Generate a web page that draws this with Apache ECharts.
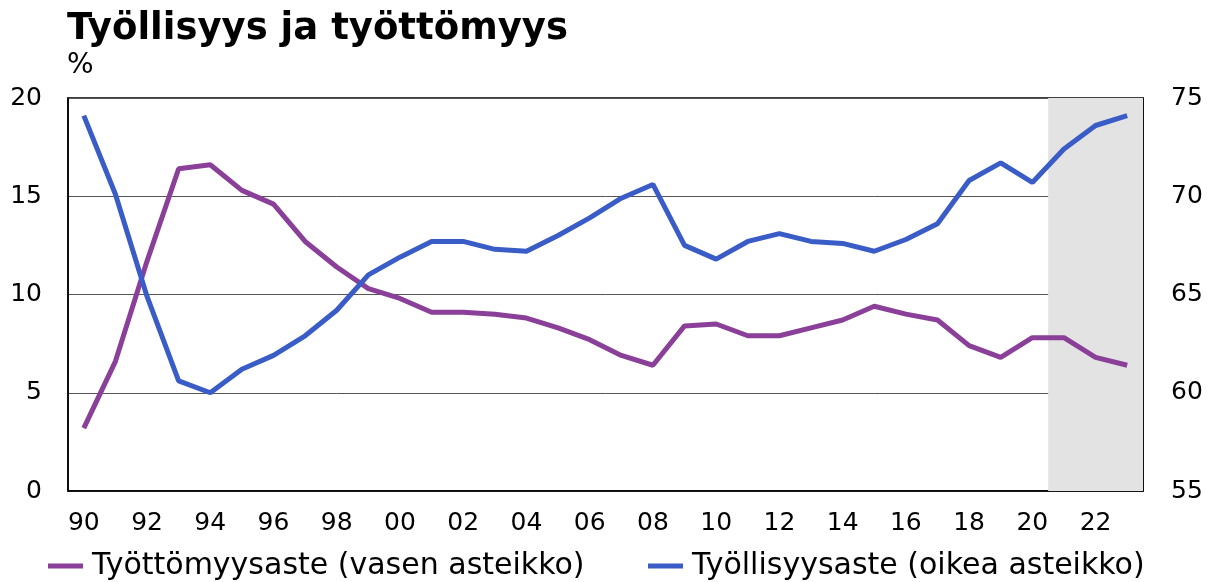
<!DOCTYPE html>
<html>
<head>
<meta charset="utf-8">
<script src="https://cdn.jsdelivr.net/npm/echarts@6/dist/echarts.min.js"></script>
<style>html,body{margin:0;padding:0;background:#fff}#c{width:1208px;height:582px}</style>
</head>
<body>
<div id="c"></div>
<script>
const years = [1990,1991,1992,1993,1994,1995,1996,1997,1998,1999,2000,2001,2002,2003,2004,2005,2006,2007,2008,2009,2010,2011,2012,2013,2014,2015,2016,2017,2018,2019,2020,2021,2022,2023];
const unemployment = [3.2,6.6,11.7,16.4,16.6,15.3,14.6,12.7,11.4,10.3,9.8,9.1,9.1,9.0,8.8,8.3,7.7,6.9,6.4,8.4,8.5,7.9,7.9,8.3,8.7,9.4,9.0,8.7,7.4,6.8,7.8,7.8,6.8,6.4];
const employment = [74.1,70.1,64.9,60.6,60.0,61.2,61.9,62.9,64.2,66.0,66.9,67.7,67.7,67.3,67.2,68.0,68.9,69.9,70.6,67.5,66.8,67.7,68.1,67.7,67.6,67.2,67.8,68.6,70.8,71.7,70.7,72.4,73.6,74.1];
const leftTicks = [0,5,10,15,20];
const rightTicks = [55,60,65,70,75];
const forecastStart = 2021;
const forecastEnd = 2023;
const seriesNames = ['Työttömyysaste (vasen asteikko)', 'Työllisyysaste (oikea asteikko)'];
const titleText = 'Työllisyys ja työttömyys';
const unitText = '%';

const FONT = 'DejaVu Sans';
const chart = echarts.init(document.getElementById('c'), null, {renderer: 'canvas'});
chart.setOption({
  animation: false,
  backgroundColor: '#fff',
  title: [
    {text: titleText, left: 67, top: 11, padding: 0,
     textStyle: {fontFamily: FONT, fontWeight: 'bold', fontSize: 37, color: '#000'}},
    {text: unitText, left: 67, top: 52, padding: 0,
     textStyle: {fontFamily: FONT, fontWeight: 'normal', fontSize: 28, color: '#000'}}
  ],
  legend: [
    {data: [seriesNames[0]], left: 48, top: 551, padding: 0, itemWidth: 35, itemHeight: 5, itemGap: 10,
     icon: 'rect', textStyle: {fontFamily: FONT, fontSize: 30, color: '#000', padding: [0,0,0,4]}},
    {data: [seriesNames[1]], left: 648, top: 551, padding: 0, itemWidth: 35, itemHeight: 5, itemGap: 10,
     icon: 'rect', textStyle: {fontFamily: FONT, fontSize: 30, color: '#000', padding: [0,0,0,4]}}
  ],
  grid: {left: 68, right: 65, top: 98, bottom: 91, show: true, borderColor: '#000', borderWidth: 1.5, backgroundColor: 'transparent'},
  xAxis: [
    {type: 'category', data: years, boundaryGap: true,
     axisLine: {lineStyle: {color: '#000', width: 1.5}},
     axisTick: {inside: true, length: 6, interval: 0, lineStyle: {color: '#000', width: 1.5}},
     axisLabel: {interval: 1, margin: 20, fontFamily: FONT, fontSize: 25, color: '#000',
       formatter: v => String(v).slice(2)},
     splitLine: {show: false}},
    {type: 'value', min: years[0] - 0.5, max: years[years.length - 1] + 0.5, show: false}
  ],
  yAxis: [
    {type: 'value', min: leftTicks[0], max: leftTicks[leftTicks.length - 1], interval: 5,
     axisLine: {show: true, lineStyle: {color: '#000', width: 1.5}},
     axisTick: {show: false},
     axisLabel: {margin: 26, fontFamily: FONT, fontSize: 25, color: '#000'},
     splitLine: {show: true, lineStyle: {color: '#555', width: 1}}},
    {type: 'value', min: rightTicks[0], max: rightTicks[rightTicks.length - 1], interval: 5, position: 'right',
     axisLine: {show: true, lineStyle: {color: '#000', width: 1.5}},
     axisTick: {show: false},
     axisLabel: {margin: 28, fontFamily: FONT, fontSize: 25, color: '#000'},
     splitLine: {show: false}}
  ],
  series: [
    {type: 'line', xAxisIndex: 1, yAxisIndex: 0, data: [], silent: true, z: 0,
     markArea: {silent: true, itemStyle: {color: '#e3e3e3'},
       data: [[{xAxis: forecastStart - 0.5}, {xAxis: forecastEnd + 0.5}]]}},
    {name: seriesNames[0], type: 'line', xAxisIndex: 0, yAxisIndex: 0, data: unemployment,
     showSymbol: false, symbol: 'none', lineStyle: {color: '#8a3f98', width: 5}, itemStyle: {color: '#8a3f98'}, z: 3},
    {name: seriesNames[1], type: 'line', xAxisIndex: 0, yAxisIndex: 1, data: employment,
     showSymbol: false, symbol: 'none', lineStyle: {color: '#3a5cc6', width: 5}, itemStyle: {color: '#3a5cc6'}, z: 3}
  ]
});
</script>
</body>
</html>
